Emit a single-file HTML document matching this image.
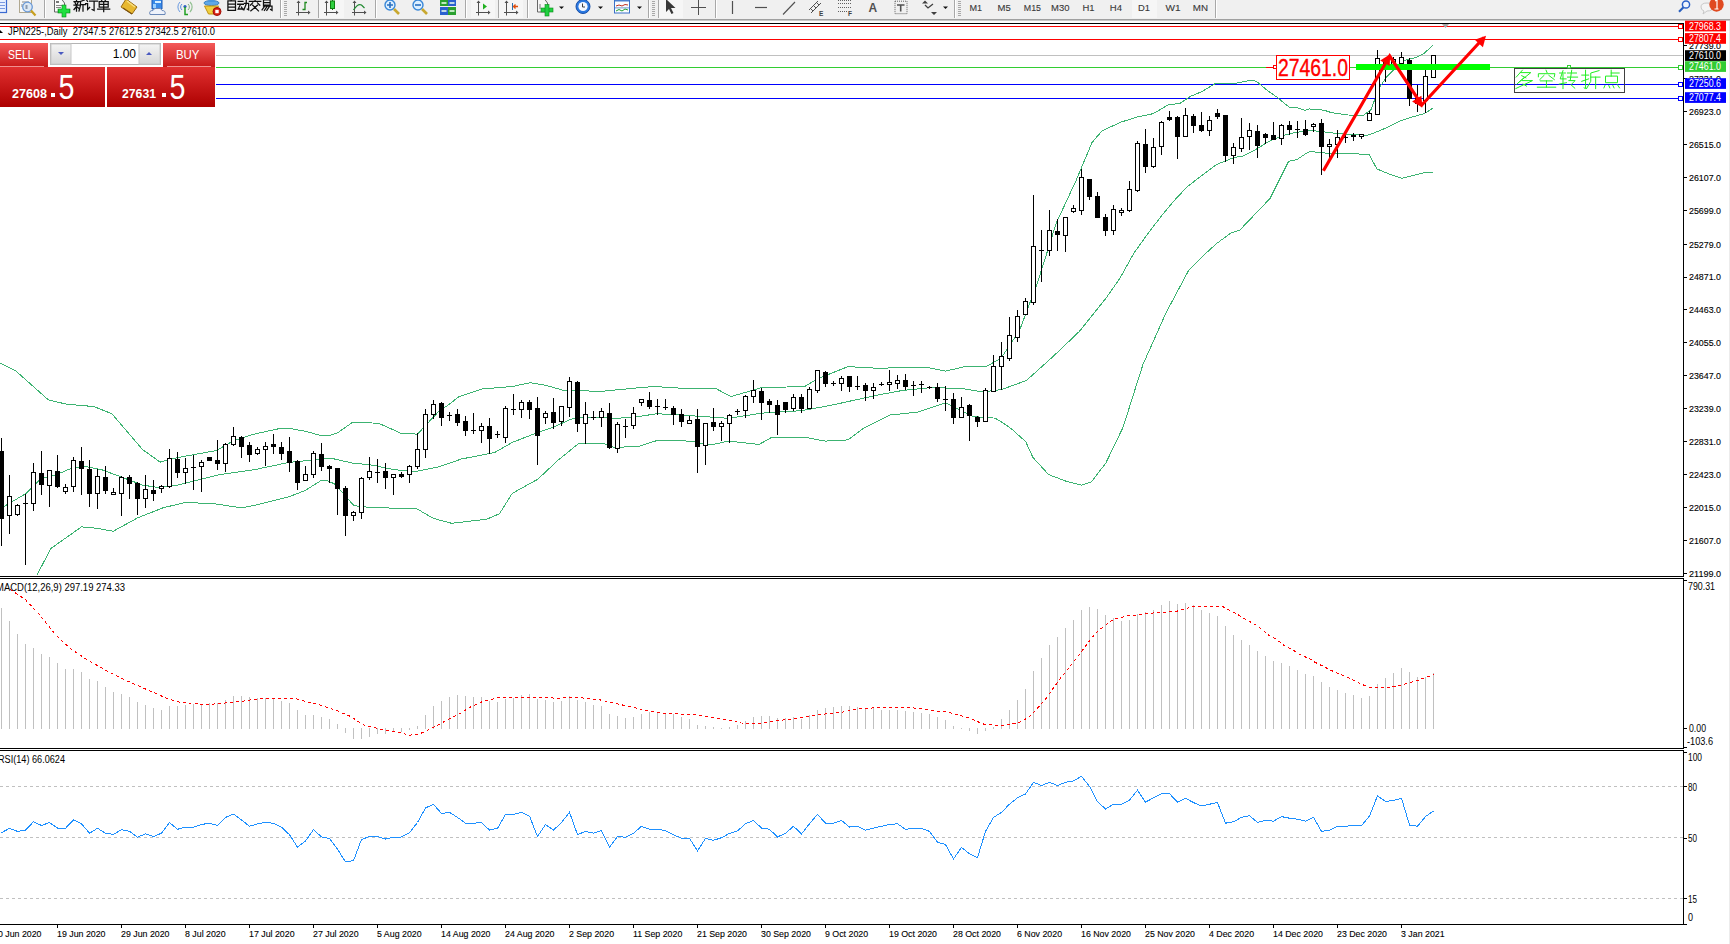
<!DOCTYPE html><html><head><meta charset="utf-8"><style>html,body{margin:0;padding:0;width:1730px;height:944px;overflow:hidden;background:#fff}</style></head><body><svg width="1730" height="944" viewBox="0 0 1730 944" style="position:absolute;left:0;top:0">
<defs><clipPath id="cmain"><rect x="0" y="24" width="1683" height="552"/></clipPath><clipPath id="cmacd"><rect x="0" y="579" width="1683" height="169"/></clipPath><clipPath id="crsi"><rect x="0" y="751" width="1683" height="173"/></clipPath><linearGradient id="gred" x1="0" y1="0" x2="0" y2="1"><stop offset="0" stop-color="#f45a5a"/><stop offset="1" stop-color="#c81a1a"/></linearGradient><linearGradient id="gred2" x1="0" y1="0" x2="0" y2="1"><stop offset="0" stop-color="#e03030"/><stop offset="1" stop-color="#ad0000"/></linearGradient><linearGradient id="gbtn" x1="0" y1="0" x2="0" y2="1"><stop offset="0" stop-color="#f4f4f4"/><stop offset="1" stop-color="#d6d6d6"/></linearGradient></defs>
<rect x="0" y="0" width="1730" height="944" fill="#ffffff"/>
<rect x="0" y="0" width="1730" height="19" fill="#f0f0f0"/>
<rect x="0" y="19" width="1730" height="1" fill="#a0a0a0"/>
<rect x="0" y="20" width="1730" height="1" fill="#c8c8c8"/>
<rect x="44" y="0" width="1" height="18" fill="#a8a8a8"/><rect x="45" y="0" width="1" height="18" fill="#ffffff"/><rect x="280" y="0" width="1" height="18" fill="#a8a8a8"/><rect x="281" y="0" width="1" height="18" fill="#ffffff"/><rect x="318" y="0" width="1" height="18" fill="#a8a8a8"/><rect x="319" y="0" width="1" height="18" fill="#ffffff"/><rect x="375" y="0" width="1" height="18" fill="#a8a8a8"/><rect x="376" y="0" width="1" height="18" fill="#ffffff"/><rect x="465" y="0" width="1" height="18" fill="#a8a8a8"/><rect x="466" y="0" width="1" height="18" fill="#ffffff"/><rect x="498" y="0" width="1" height="18" fill="#a8a8a8"/><rect x="499" y="0" width="1" height="18" fill="#ffffff"/><rect x="527" y="0" width="1" height="18" fill="#a8a8a8"/><rect x="528" y="0" width="1" height="18" fill="#ffffff"/><rect x="648" y="0" width="1" height="18" fill="#a8a8a8"/><rect x="649" y="0" width="1" height="18" fill="#ffffff"/><rect x="658" y="0" width="1" height="18" fill="#a8a8a8"/><rect x="659" y="0" width="1" height="18" fill="#ffffff"/><rect x="715" y="0" width="1" height="18" fill="#a8a8a8"/><rect x="716" y="0" width="1" height="18" fill="#ffffff"/><rect x="954" y="0" width="1" height="18" fill="#a8a8a8"/><rect x="955" y="0" width="1" height="18" fill="#ffffff"/><rect x="1215" y="0" width="1" height="18" fill="#a8a8a8"/><rect x="1216" y="0" width="1" height="18" fill="#ffffff"/><rect x="284" y="1" width="3" height="1" fill="#a8a8a8"/><rect x="284" y="3" width="3" height="1" fill="#a8a8a8"/><rect x="284" y="5" width="3" height="1" fill="#a8a8a8"/><rect x="284" y="7" width="3" height="1" fill="#a8a8a8"/><rect x="284" y="9" width="3" height="1" fill="#a8a8a8"/><rect x="284" y="11" width="3" height="1" fill="#a8a8a8"/><rect x="284" y="13" width="3" height="1" fill="#a8a8a8"/><rect x="284" y="15" width="3" height="1" fill="#a8a8a8"/><rect x="652" y="1" width="3" height="1" fill="#a8a8a8"/><rect x="652" y="3" width="3" height="1" fill="#a8a8a8"/><rect x="652" y="5" width="3" height="1" fill="#a8a8a8"/><rect x="652" y="7" width="3" height="1" fill="#a8a8a8"/><rect x="652" y="9" width="3" height="1" fill="#a8a8a8"/><rect x="652" y="11" width="3" height="1" fill="#a8a8a8"/><rect x="652" y="13" width="3" height="1" fill="#a8a8a8"/><rect x="652" y="15" width="3" height="1" fill="#a8a8a8"/><rect x="958" y="1" width="3" height="1" fill="#a8a8a8"/><rect x="958" y="3" width="3" height="1" fill="#a8a8a8"/><rect x="958" y="5" width="3" height="1" fill="#a8a8a8"/><rect x="958" y="7" width="3" height="1" fill="#a8a8a8"/><rect x="958" y="9" width="3" height="1" fill="#a8a8a8"/><rect x="958" y="11" width="3" height="1" fill="#a8a8a8"/><rect x="958" y="13" width="3" height="1" fill="#a8a8a8"/><rect x="958" y="15" width="3" height="1" fill="#a8a8a8"/><rect x="319" y="0" width="25" height="18" fill="#f6f6f6"/><rect x="471" y="0" width="24" height="18" fill="#f6f6f6"/><rect x="499" y="0" width="24" height="18" fill="#f6f6f6"/><rect x="659" y="0" width="24" height="18" fill="#f6f6f6"/><rect x="1132" y="0" width="25" height="18" fill="#f6f6f6"/><rect x="-3.5" y="-1.5" width="10" height="14" fill="#e8f0ff" stroke="#3a6ad0" stroke-width="1.2"/><rect x="-1" y="2" width="6" height="1" fill="#7a9ae0"/><rect x="-1" y="5" width="6" height="1" fill="#7a9ae0"/><rect x="-1" y="8" width="6" height="1" fill="#7a9ae0"/><rect x="19.5" y="-1.5" width="12" height="14" fill="#f8f8f8" stroke="#b0a890"/><path d="M22 2 h7 M22 4 v3" stroke="#888" /><circle cx="27.5" cy="7" r="4.8" fill="#dde8f4" stroke="#6a9ad8" stroke-width="1.3"/><path d="M26.5 5 v4" stroke="#8a9ab0" stroke-width="2"/><path d="M31 10.5 l4.5 5" stroke="#c8a020" stroke-width="2.2"/><path d="M54.5 -1 v13 h10 v-9 l-3 -4" fill="#fafafa" stroke="#666"/><rect x="56" y="1" width="3" height="2" fill="#777"/><rect x="56" y="5" width="6" height="1" fill="#888"/><rect x="56" y="7" width="5" height="1" fill="#888"/><rect x="58" y="9" width="12" height="4" fill="#10c030" stroke="#0a8a1a" stroke-width="0.6"/><rect x="62" y="5" width="4" height="12" fill="#10c030" stroke="#0a8a1a" stroke-width="0.6"/><rect x="59" y="9.5" width="10" height="3" fill="#20e040"/><rect x="62.5" y="5.5" width="3" height="11" fill="#20e040"/><path transform="translate(73.50,-0.50) scale(1.0)" d="M3 -0.5 V1.2 M0.5 2 H6 M1.5 3 L2.5 5 M4.5 3 L3.5 5 M0.5 5.5 H6 M3 5.5 V11.5 M3 7 L0.5 10 M3 7 L5.5 9 M11 0.5 L7 2 V6 L5.5 11.5 M7 5 H12 M9.5 5 V11.5" fill="none" stroke="#101010" stroke-width="1.250" stroke-linecap="square"/><path transform="translate(85.60,-0.50) scale(1.0)" d="M1 0.5 L2 2 M0 4 H2 V10 L4 8 M4 1.5 H12 M8.5 1.5 V11 L6.5 10" fill="none" stroke="#101010" stroke-width="1.250" stroke-linecap="square"/><path transform="translate(97.70,-0.50) scale(1.0)" d="M3 -0.5 L4 1 M8.5 -0.5 L7.5 1 M1.5 2 H10.5 V7.5 H1.5 Z M1.5 4.75 H10.5 M6 2 V12 M0 9.5 H12" fill="none" stroke="#101010" stroke-width="1.250" stroke-linecap="square"/><path d="M126 -1 l11 8 l-5 7 l-11 -7z" fill="#e8b830" stroke="#9a6a10" stroke-width="1"/><path d="M123 8 l9 6" stroke="#7a5010" stroke-width="1.2"/><path d="M127 1 l8 6" stroke="#f8e080" stroke-width="1.5"/><path d="M152 -1 h10 v10 h-10z" fill="#3a8ae8" stroke="#1a5ab8"/><rect x="155" y="1" width="6" height="2" fill="#d8f0ff"/><rect x="153" y="4" width="3" height="4" fill="#9ad0ff"/><path d="M150 14.5 q-1.5 -4 3 -4 q1 -3 5 -2 q3 -1 4 2 q4 0 3 4z" fill="#eef2fa" stroke="#6a88b8"/><path d="M180 2 a7 7 0 0 0 0 10" fill="none" stroke="#6a9ae0" stroke-width="1"/><path d="M182 4 a4 4 0 0 0 0 6" fill="none" stroke="#5a8ad8" stroke-width="1"/><path d="M190 2 a7 7 0 0 1 0 10" fill="none" stroke="#90c090" stroke-width="1.2"/><path d="M188 4 a4 4 0 0 1 0 6" fill="none" stroke="#80b080" stroke-width="1"/><circle cx="185" cy="6.5" r="1.6" fill="#2a60c0"/><path d="M185 7 v7.5 h3" stroke="#20a020" stroke-width="1.5" fill="none"/><ellipse cx="211.5" cy="3" rx="7.5" ry="2.5" fill="#60a8e8" stroke="#3a80c0"/><path d="M209 -1 h5 l1 3 h-7z" fill="#4a98e0"/><path d="M204.5 6 h14 l-4 8 h-6z" fill="#f0d040" stroke="#c09010"/><circle cx="217" cy="11.5" r="4" fill="#d82010" stroke="#a01008"/><rect x="215.3" y="9.8" width="3.4" height="3.4" fill="#fff"/><path transform="translate(226.00,-0.50) scale(0.95)" d="M6 -0.5 L5 1.5 M2 1.5 H10 V11.5 H2 Z M2 4.8 H10 M2 8 H10" fill="none" stroke="#101010" stroke-width="1.316" stroke-linecap="square"/><path transform="translate(237.70,-0.50) scale(0.95)" d="M0.5 2 H5.5 M0 5 H6 M3 5 L0.5 10 H5.5 M4 8 L5.5 10.5 M7 4 H11.5 V11 L10 10 M9 0.5 V4.5 L6.5 11" fill="none" stroke="#101010" stroke-width="1.316" stroke-linecap="square"/><path transform="translate(249.40,-0.50) scale(0.95)" d="M6 -0.5 V1.5 M0 2 H12 M3.5 3.5 L1 6 M8.5 3.5 L11 6 M3.5 6 L9.5 12 M8.5 6 L1.5 12" fill="none" stroke="#101010" stroke-width="1.316" stroke-linecap="square"/><path transform="translate(261.10,-0.50) scale(0.95)" d="M2.5 0.5 H9.5 V6 H2.5 Z M2.5 3.2 H9.5 M2.5 7 H11.5 V11.5 L10 10.5 M4.5 6 L1 11 M6.5 7 L3.5 11.5 M9 7 L6 11.5" fill="none" stroke="#101010" stroke-width="1.316" stroke-linecap="square"/><path d="M298.5 1 v14.5 M296 12.5 h14" stroke="#505050" stroke-width="1" fill="none"/><path d="M296.5 3 l2 -2.5 l2 2.5z M308 10.5 l2.5 2 l-2.5 2z" fill="#505050"/><path d="M302.5 9.5 h2.5 v-7 h2" stroke="#208a20" stroke-width="1.3" fill="none"/><path d="M326.5 1 v14.5 M324 12.5 h14" stroke="#505050" stroke-width="1" fill="none"/><path d="M324.5 3 l2 -2.5 l2 2.5z M336 10.5 l2.5 2 l-2.5 2z" fill="#505050"/><path d="M332.5 -1 v11" stroke="#107010"/><rect x="330.5" y="1" width="4" height="7.5" fill="#30d040" stroke="#108010"/><path d="M354.5 1 v14.5 M352 12.5 h14" stroke="#505050" stroke-width="1" fill="none"/><path d="M352.5 3 l2 -2.5 l2 2.5z M364 10.5 l2.5 2 l-2.5 2z" fill="#505050"/><path d="M353.5 10 q4.5 -7 8 -5 l3 3" stroke="#208a30" stroke-width="1.2" fill="none"/><circle cx="390" cy="5" r="5" fill="#dcefff" stroke="#3a88d8" stroke-width="1.4"/><path d="M387 5 h6 M390 2 v6" stroke="#2a70c0" stroke-width="1.6"/><path d="M394 9 l5 5" stroke="#c8a830" stroke-width="2.6"/><circle cx="418" cy="5" r="5" fill="#dcefff" stroke="#3a88d8" stroke-width="1.4"/><path d="M415 5 h6" stroke="#2a70c0" stroke-width="1.6"/><path d="M422 9 l5 5" stroke="#c8a830" stroke-width="2.6"/><rect x="440" y="-1" width="8" height="7" fill="#2aa030"/><rect x="448" y="-1" width="8" height="7" fill="#2a60d0"/><rect x="440" y="7" width="8" height="8" fill="#2a60d0"/><rect x="448" y="7" width="8" height="8" fill="#2aa030"/><path d="M441.5 3 h5 M449.5 3 h5 M441.5 11 h5 M449.5 11 h5" stroke="#f0fff0" stroke-width="1.5"/><path d="M478.5 1 v14.5 M476 12.5 h14" stroke="#505050" stroke-width="1" fill="none"/><path d="M476.5 3 l2 -2.5 l2 2.5z M488 10.5 l2.5 2 l-2.5 2z" fill="#505050"/><path d="M483 3.5 l4 3 l-4 3z" fill="#20b020"/><path d="M506.5 1 v14.5 M504 12.5 h14" stroke="#505050" stroke-width="1" fill="none"/><path d="M504.5 3 l2 -2.5 l2 2.5z M516 10.5 l2.5 2 l-2.5 2z" fill="#505050"/><path d="M512.5 3 v7" stroke="#2a70b0"/><path d="M518 6.5 h-4 M515.5 4.5 l-2 2 l2 2" stroke="#e05010" stroke-width="1.3" fill="none"/><path d="M537.5 -1 v13 h10 v-9 l-3 -4" fill="#f6f6f6" stroke="#666"/><path d="M540 4 v5" stroke="#777"/><rect x="541" y="8" width="12" height="4" fill="#20d040" stroke="#0a8a1a" stroke-width="0.6"/><rect x="545" y="4.5" width="4" height="11.5" fill="#20d040" stroke="#0a8a1a" stroke-width="0.6"/><path d="M559 6.5 h5 l-2.5 2.5z" fill="#101010"/><circle cx="583" cy="6.5" r="7" fill="#2a78e0" stroke="#1a50a8"/><circle cx="583" cy="6.5" r="4.6" fill="#f4f8ff"/><path d="M582.5 3.5 v3.5 h2.5" stroke="#404040" fill="none"/><path d="M598 6.5 h5 l-2.5 2.5z" fill="#101010"/><rect x="614.5" y="-1" width="15" height="14" fill="#fafcff" stroke="#3a70c8"/><rect x="615" y="-1" width="14" height="2.5" fill="#4a80d0"/><path d="M616 6 l3 -1 l3 1 l3 -1.5 l3 0.5" stroke="#c03020" fill="none"/><rect x="615" y="7.5" width="14" height="0.8" fill="#5080c0"/><path d="M616 11 l3 -1.5 l3 1.5 l3 -2 l3 1" stroke="#20a030" fill="none"/><path d="M637 6.5 h5 l-2.5 2.5z" fill="#101010"/><path d="M666 -1 v13 l3 -3 l2.5 5 l2 -1 l-2.5 -5 h4.5z" fill="#383838"/><path d="M698.5 0 v15 M691 7.5 h15" stroke="#505050"/><path d="M732.5 1 v13" stroke="#505050" stroke-width="1.2"/><path d="M755 7.5 h12" stroke="#505050" stroke-width="1.2"/><path d="M783 14.5 l12 -12.5" stroke="#505050" stroke-width="1.1"/><path d="M809 10 l9 -9 M811 13 l10 -10 M813 5 l3 3 M810 8 l3 3 M816 2 l3 3" stroke="#505050" stroke-width="1"/><text x="819" y="15.5" font-family='"Liberation Sans"' font-size="6.5" font-weight="bold" fill="#404040">E</text><path d="M838 0.5 h13 M838 3.5 h13 M838 7.5 h13 M838 11.5 h9" stroke="#606060" stroke-dasharray="1,1"/><text x="848" y="15.5" font-family='"Liberation Sans"' font-size="6.5" font-weight="bold" fill="#404040">F</text><text x="868.5" y="11.6" font-family='"Liberation Sans"' font-size="12" font-weight="bold" fill="#505050">A</text><rect x="895" y="1.2" width="12" height="12.5" fill="none" stroke="#606060" stroke-dasharray="1,1"/><path d="M897 5 h7.5 M900.7 5 v6.6" stroke="#505050" stroke-width="1.6"/><path d="M922 3.5 l3 -3 l3 3z M931 12 l3 3 l3 -3z" fill="#404040"/><path d="M925 5 l3 3 l5 -4" stroke="#404040" stroke-width="1.3" fill="none"/><path d="M943 6.5 h5 l-2.5 2.5z" fill="#101010"/><text x="969.4" y="11" font-family='"Liberation Sans", sans-serif' font-size="9.5" fill="#383838" stroke="#383838" stroke-width="0.1" textLength="12.6" lengthAdjust="spacingAndGlyphs">M1</text><text x="997.5" y="11" font-family='"Liberation Sans", sans-serif' font-size="9.5" fill="#383838" stroke="#383838" stroke-width="0.1" textLength="13.2" lengthAdjust="spacingAndGlyphs">M5</text><text x="1023.8" y="11" font-family='"Liberation Sans", sans-serif' font-size="9.5" fill="#383838" stroke="#383838" stroke-width="0.1" textLength="17.2" lengthAdjust="spacingAndGlyphs">M15</text><text x="1051" y="11" font-family='"Liberation Sans", sans-serif' font-size="9.5" fill="#383838" stroke="#383838" stroke-width="0.1" textLength="18.4" lengthAdjust="spacingAndGlyphs">M30</text><text x="1082.5" y="11" font-family='"Liberation Sans", sans-serif' font-size="9.5" fill="#383838" stroke="#383838" stroke-width="0.1" textLength="12.1" lengthAdjust="spacingAndGlyphs">H1</text><text x="1109.8" y="11" font-family='"Liberation Sans", sans-serif' font-size="9.5" fill="#383838" stroke="#383838" stroke-width="0.1" textLength="12.2" lengthAdjust="spacingAndGlyphs">H4</text><text x="1138" y="11" font-family='"Liberation Sans", sans-serif' font-size="9.5" fill="#383838" stroke="#383838" stroke-width="0.1" textLength="12" lengthAdjust="spacingAndGlyphs">D1</text><text x="1165.5" y="11" font-family='"Liberation Sans", sans-serif' font-size="9.5" fill="#383838" stroke="#383838" stroke-width="0.1" textLength="15.1" lengthAdjust="spacingAndGlyphs">W1</text><text x="1192.8" y="11" font-family='"Liberation Sans", sans-serif' font-size="9.5" fill="#383838" stroke="#383838" stroke-width="0.1" textLength="15.2" lengthAdjust="spacingAndGlyphs">MN</text><circle cx="1686" cy="4.5" r="3.6" fill="#f0f6ff" stroke="#2a60c8" stroke-width="1.5"/><path d="M1683.5 7.2 l-4.5 4.5" stroke="#2a60c0" stroke-width="2.2"/><path d="M1703 14 l1 -3 q-3 -1 -3 -4 q0 -4 6 -4 q6 0 6 4 q0 4 -6 4z" fill="#f4f4f4" stroke="#c8c8c8"/><circle cx="1716.5" cy="4.5" r="7.2" fill="#e04a20"/><path d="M1715 1 l2 -1 v9 M1714.5 9 h4" stroke="#fff" stroke-width="1.2" fill="none"/>
<rect x="0" y="23" width="1684" height="1" fill="#000"/>
<rect x="1729" y="21" width="1" height="923" fill="#ececec"/>
<g clip-path="url(#cmain)">
<rect x="0" y="55" width="1683" height="1" fill="#c0c0c0"/>
<rect x="0" y="26" width="1683" height="1" fill="#ff0000"/>
<rect x="1678.5" y="24.5" width="4" height="4" fill="#fff" stroke="#ff0000" stroke-width="1"/>
<rect x="0" y="39" width="1683" height="1" fill="#ff0000"/>
<rect x="1678.5" y="37.5" width="4" height="4" fill="#fff" stroke="#ff0000" stroke-width="1"/>
<rect x="0" y="67" width="1683" height="1" fill="#32cd32"/>
<rect x="1678.5" y="65.5" width="4" height="4" fill="#fff" stroke="#32cd32" stroke-width="1"/>
<rect x="0" y="84" width="1683" height="1" fill="#0000ff"/>
<rect x="1678.5" y="82.5" width="4" height="4" fill="#fff" stroke="#0000ff" stroke-width="1"/>
<rect x="0" y="98" width="1683" height="1" fill="#0000ff"/>
<rect x="1678.5" y="96.5" width="4" height="4" fill="#fff" stroke="#0000ff" stroke-width="1"/>
<polyline points="0.0,362.9 15.3,370.5 48.3,399.8 66.1,404.1 94.1,406.6 111.9,413.8 127.2,431.6 142.4,449.4 160.2,462.1 178.0,457.5 216.2,450.6 234.0,440.5 254.3,434.1 279.8,428.5 290.0,428.2 295.0,429.5 304.8,431.1 321.1,435.6 330.0,435.3 337.4,432.9 352.3,422.5 364.1,422.5 379.0,423.4 401.2,433.4 417.5,434.1 426.4,424.5 438.3,411.9 450.0,403.7 458.9,396.6 481.8,389.0 512.3,386.5 530.1,382.7 545.4,385.2 563.2,390.3 578.4,390.3 598.8,391.6 639.5,387.7 654.7,386.5 685.2,388.5 715.8,388.5 731.0,396.6 746.3,392.1 761.5,387.7 804.8,386.5 817.5,378.8 848.0,366.6 876.0,368.2 927.3,367.4 945.7,371.1 964.2,366.8 985.7,366.8 1001.0,358.2 1019.5,330.5 1037.9,281.4 1056.3,223.0 1076.3,180.0 1092.0,142.5 1102.2,130.7 1120.8,122.2 1137.8,116.8 1153.0,113.7 1168.3,104.9 1180.0,103.4 1190.4,96.4 1201.7,91.7 1214.7,83.9 1221.6,83.4 1235.5,83.4 1249.4,80.4 1256.3,81.2 1266.7,89.9 1277.1,97.3 1289.3,107.3 1296.2,107.5 1304.9,110.3 1310.0,108.7 1310.1,109.4 1317.9,109.6 1322.0,110.0 1329.1,111.6 1330.0,112.5 1348.2,115.0 1363.4,115.4 1371.0,109.7 1378.7,88.7 1386.3,77.2 1393.9,69.6 1405.4,60.1 1416.8,57.2 1424.5,53.2 1433.0,44.8" fill="none" stroke="#3cb371" stroke-width="1" shape-rendering="crispEdges"/>
<polyline points="0.0,509.1 10.2,502.8 25.4,493.9 40.7,478.6 56.0,474.8 71.2,468.4 86.5,466.7 101.7,469.7 122.1,477.3 142.4,485.0 157.7,487.5 178.0,485.0 193.3,481.1 218.7,474.8 254.3,469.7 284.8,463.3 290.0,462.3 304.8,460.8 325.6,458.3 334.5,459.0 352.3,463.0 373.0,465.2 393.8,469.7 408.6,470.9 417.5,471.2 438.3,467.0 450.0,463.0 461.4,459.0 494.5,452.6 512.3,442.4 535.2,433.5 553.0,427.2 573.3,418.3 593.7,417.0 614.0,418.3 631.8,417.5 657.3,413.7 690.3,415.7 728.5,418.3 761.5,413.2 802.2,410.6 830.2,405.5 876.0,395.4 902.7,390.4 933.4,387.4 964.2,388.9 982.6,392.0 1000.0,389.7 1001.0,389.8 1026.5,380.4 1053.0,356.6 1079.4,331.4 1105.9,298.3 1120.0,278.1 1133.8,253.3 1147.6,234.0 1161.3,216.1 1175.1,199.6 1187.5,186.5 1202.7,174.8 1216.4,164.5 1230.2,159.0 1240.0,156.2 1241.2,156.9 1254.7,150.2 1268.3,141.7 1281.8,135.8 1295.4,132.4 1310.0,130.6 1312.3,130.7 1322.0,131.5 1329.1,132.6 1348.2,134.5 1367.2,135.4 1374.9,132.6 1386.3,127.8 1399.7,121.1 1411.1,117.3 1424.5,113.5 1433.0,108.1" fill="none" stroke="#3cb371" stroke-width="1" shape-rendering="crispEdges"/>
<polyline points="36.9,575.2 50.9,548.5 81.4,526.9 96.6,528.2 113.2,531.3 137.3,518.0 162.8,507.9 185.7,502.3 216.2,504.0 241.6,507.9 256.9,504.8 279.8,499.0 290.0,496.4 304.8,490.7 321.1,480.5 327.1,480.8 334.5,483.8 341.9,491.9 353.8,505.6 373.0,507.9 416.0,508.2 430.9,517.1 438.3,519.8 450.0,522.8 451.3,523.3 486.9,519.2 499.6,513.6 512.3,493.3 537.7,479.3 558.1,460.2 578.4,443.7 603.9,443.7 614.0,447.5 639.5,446.2 657.3,440.4 690.3,441.1 710.7,445.0 728.5,441.1 759.0,444.5 771.7,437.3 804.8,437.3 825.1,441.1 848.0,439.9 863.3,428.4 876.0,422.1 890.4,415.0 918.1,412.0 945.7,402.7 973.4,416.6 994.9,418.1 1000.0,421.1 1007.2,425.8 1011.4,428.8 1025.7,441.7 1032.9,457.4 1048.6,474.6 1065.8,481.1 1081.5,485.1 1091.5,481.7 1105.8,463.1 1123.0,427.4 1143.0,364.4 1165.9,313.0 1188.9,269.9 1202.7,256.1 1216.4,243.7 1230.2,233.4 1240.0,229.9 1270.0,198.5 1288.6,161.2 1297.1,159.5 1307.3,152.7 1310.0,151.6 1314.0,151.9 1322.0,152.7 1329.1,153.5 1348.2,153.5 1369.1,154.5 1376.8,168.8 1390.1,174.5 1401.6,178.3 1413.0,175.5 1424.5,172.6 1433.0,172.6" fill="none" stroke="#3cb371" stroke-width="1" shape-rendering="crispEdges"/>
<g fill="#000" shape-rendering="crispEdges"><rect x="1" y="438" width="1" height="108"/><rect x="-1" y="451" width="5" height="68"/><rect x="9" y="475" width="1" height="59"/><rect x="7" y="496" width="5" height="20"/><rect x="8" y="497" width="3" height="18" fill="#fff"/><rect x="17" y="504" width="1" height="12"/><rect x="15" y="505" width="5" height="10"/><rect x="16" y="506" width="3" height="8" fill="#fff"/><rect x="25" y="494" width="1" height="71"/><rect x="23" y="503" width="5" height="1"/><rect x="33" y="463" width="1" height="48"/><rect x="31" y="472" width="5" height="32"/><rect x="32" y="473" width="3" height="30" fill="#fff"/><rect x="41" y="451" width="1" height="44"/><rect x="39" y="473" width="5" height="12"/><rect x="49" y="470" width="1" height="37"/><rect x="47" y="470" width="5" height="16"/><rect x="48" y="471" width="3" height="14" fill="#fff"/><rect x="57" y="455" width="1" height="33"/><rect x="55" y="471" width="5" height="16"/><rect x="65" y="484" width="1" height="10"/><rect x="63" y="487" width="5" height="5"/><rect x="64" y="488" width="3" height="3" fill="#fff"/><rect x="73" y="457" width="1" height="35"/><rect x="71" y="460" width="5" height="27"/><rect x="72" y="461" width="3" height="25" fill="#fff"/><rect x="81" y="447" width="1" height="48"/><rect x="79" y="461" width="5" height="8"/><rect x="89" y="460" width="1" height="47"/><rect x="87" y="469" width="5" height="25"/><rect x="97" y="469" width="1" height="40"/><rect x="95" y="476" width="5" height="18"/><rect x="96" y="477" width="3" height="16" fill="#fff"/><rect x="105" y="466" width="1" height="28"/><rect x="103" y="477" width="5" height="14"/><rect x="113" y="488" width="1" height="7"/><rect x="111" y="492" width="5" height="3"/><rect x="112" y="493" width="3" height="1" fill="#fff"/><rect x="121" y="476" width="1" height="40"/><rect x="119" y="477" width="5" height="17"/><rect x="120" y="478" width="3" height="15" fill="#fff"/><rect x="129" y="475" width="1" height="24"/><rect x="127" y="477" width="5" height="7"/><rect x="137" y="482" width="1" height="33"/><rect x="135" y="483" width="5" height="16"/><rect x="145" y="475" width="1" height="33"/><rect x="143" y="489" width="5" height="10"/><rect x="144" y="490" width="3" height="8" fill="#fff"/><rect x="153" y="480" width="1" height="21"/><rect x="151" y="490" width="5" height="4"/><rect x="161" y="485" width="1" height="8"/><rect x="159" y="486" width="5" height="3"/><rect x="160" y="487" width="3" height="1" fill="#fff"/><rect x="169" y="449" width="1" height="39"/><rect x="167" y="458" width="5" height="29"/><rect x="168" y="459" width="3" height="27" fill="#fff"/><rect x="177" y="452" width="1" height="26"/><rect x="175" y="459" width="5" height="14"/><rect x="185" y="458" width="1" height="26"/><rect x="183" y="468" width="5" height="5"/><rect x="184" y="469" width="3" height="3" fill="#fff"/><rect x="193" y="455" width="1" height="35"/><rect x="191" y="467" width="5" height="1"/><rect x="201" y="460" width="1" height="32"/><rect x="199" y="462" width="5" height="5"/><rect x="200" y="463" width="3" height="3" fill="#fff"/><rect x="209" y="457" width="1" height="4"/><rect x="207" y="457" width="5" height="4"/><rect x="217" y="440" width="1" height="30"/><rect x="215" y="460" width="5" height="4"/><rect x="225" y="443" width="1" height="29"/><rect x="223" y="444" width="5" height="20"/><rect x="224" y="445" width="3" height="18" fill="#fff"/><rect x="233" y="427" width="1" height="19"/><rect x="231" y="436" width="5" height="9"/><rect x="232" y="437" width="3" height="7" fill="#fff"/><rect x="241" y="436" width="1" height="22"/><rect x="239" y="437" width="5" height="10"/><rect x="249" y="442" width="1" height="20"/><rect x="247" y="445" width="5" height="10"/><rect x="257" y="447" width="1" height="8"/><rect x="255" y="449" width="5" height="5"/><rect x="256" y="450" width="3" height="3" fill="#fff"/><rect x="265" y="442" width="1" height="24"/><rect x="263" y="446" width="5" height="4"/><rect x="264" y="447" width="3" height="2" fill="#fff"/><rect x="273" y="434" width="1" height="20"/><rect x="271" y="444" width="5" height="3"/><rect x="281" y="442" width="1" height="18"/><rect x="279" y="447" width="5" height="7"/><rect x="289" y="437" width="1" height="35"/><rect x="287" y="451" width="5" height="12"/><rect x="297" y="460" width="1" height="30"/><rect x="295" y="461" width="5" height="22"/><rect x="305" y="466" width="1" height="15"/><rect x="303" y="474" width="5" height="7"/><rect x="304" y="475" width="3" height="5" fill="#fff"/><rect x="313" y="451" width="1" height="27"/><rect x="311" y="453" width="5" height="22"/><rect x="312" y="454" width="3" height="20" fill="#fff"/><rect x="321" y="443" width="1" height="28"/><rect x="319" y="454" width="5" height="13"/><rect x="329" y="465" width="1" height="18"/><rect x="327" y="466" width="5" height="3"/><rect x="337" y="468" width="1" height="47"/><rect x="335" y="468" width="5" height="21"/><rect x="345" y="486" width="1" height="50"/><rect x="343" y="488" width="5" height="28"/><rect x="353" y="511" width="1" height="10"/><rect x="351" y="512" width="5" height="4"/><rect x="352" y="513" width="3" height="2" fill="#fff"/><rect x="361" y="477" width="1" height="42"/><rect x="359" y="478" width="5" height="35"/><rect x="360" y="479" width="3" height="33" fill="#fff"/><rect x="369" y="457" width="1" height="23"/><rect x="367" y="471" width="5" height="7"/><rect x="368" y="472" width="3" height="5" fill="#fff"/><rect x="377" y="459" width="1" height="24"/><rect x="375" y="472" width="5" height="1"/><rect x="385" y="463" width="1" height="26"/><rect x="383" y="471" width="5" height="7"/><rect x="393" y="474" width="1" height="21"/><rect x="391" y="474" width="5" height="4"/><rect x="392" y="475" width="3" height="2" fill="#fff"/><rect x="401" y="472" width="1" height="6"/><rect x="399" y="474" width="5" height="3"/><rect x="409" y="465" width="1" height="18"/><rect x="407" y="466" width="5" height="9"/><rect x="408" y="467" width="3" height="7" fill="#fff"/><rect x="417" y="433" width="1" height="36"/><rect x="415" y="449" width="5" height="18"/><rect x="416" y="450" width="3" height="16" fill="#fff"/><rect x="425" y="409" width="1" height="49"/><rect x="423" y="414" width="5" height="36"/><rect x="424" y="415" width="3" height="34" fill="#fff"/><rect x="433" y="400" width="1" height="19"/><rect x="431" y="404" width="5" height="11"/><rect x="432" y="405" width="3" height="9" fill="#fff"/><rect x="441" y="402" width="1" height="24"/><rect x="439" y="403" width="5" height="15"/><rect x="449" y="412" width="1" height="9"/><rect x="447" y="415" width="5" height="1"/><rect x="457" y="409" width="1" height="17"/><rect x="455" y="414" width="5" height="9"/><rect x="465" y="416" width="1" height="20"/><rect x="463" y="421" width="5" height="10"/><rect x="473" y="413" width="1" height="21"/><rect x="471" y="430" width="5" height="1"/><rect x="481" y="423" width="1" height="20"/><rect x="479" y="426" width="5" height="5"/><rect x="480" y="427" width="3" height="3" fill="#fff"/><rect x="489" y="418" width="1" height="36"/><rect x="487" y="426" width="5" height="13"/><rect x="497" y="431" width="1" height="7"/><rect x="495" y="434" width="5" height="1"/><rect x="505" y="406" width="1" height="37"/><rect x="503" y="408" width="5" height="30"/><rect x="504" y="409" width="3" height="28" fill="#fff"/><rect x="513" y="394" width="1" height="21"/><rect x="511" y="409" width="5" height="1"/><rect x="521" y="400" width="1" height="18"/><rect x="519" y="402" width="5" height="8"/><rect x="520" y="403" width="3" height="6" fill="#fff"/><rect x="529" y="400" width="1" height="19"/><rect x="527" y="402" width="5" height="8"/><rect x="537" y="397" width="1" height="68"/><rect x="535" y="408" width="5" height="28"/><rect x="545" y="411" width="1" height="13"/><rect x="543" y="413" width="5" height="5"/><rect x="544" y="414" width="3" height="3" fill="#fff"/><rect x="553" y="398" width="1" height="31"/><rect x="551" y="412" width="5" height="11"/><rect x="561" y="406" width="1" height="20"/><rect x="559" y="406" width="5" height="16"/><rect x="560" y="407" width="3" height="14" fill="#fff"/><rect x="569" y="377" width="1" height="40"/><rect x="567" y="381" width="5" height="27"/><rect x="568" y="382" width="3" height="25" fill="#fff"/><rect x="577" y="381" width="1" height="51"/><rect x="575" y="382" width="5" height="42"/><rect x="585" y="402" width="1" height="42"/><rect x="583" y="414" width="5" height="10"/><rect x="584" y="415" width="3" height="8" fill="#fff"/><rect x="593" y="411" width="1" height="9"/><rect x="591" y="417" width="5" height="1"/><rect x="601" y="408" width="1" height="19"/><rect x="599" y="411" width="5" height="7"/><rect x="600" y="412" width="3" height="5" fill="#fff"/><rect x="609" y="403" width="1" height="46"/><rect x="607" y="413" width="5" height="35"/><rect x="617" y="422" width="1" height="31"/><rect x="615" y="424" width="5" height="25"/><rect x="616" y="425" width="3" height="23" fill="#fff"/><rect x="625" y="419" width="1" height="19"/><rect x="623" y="426" width="5" height="1"/><rect x="633" y="407" width="1" height="22"/><rect x="631" y="413" width="5" height="13"/><rect x="632" y="414" width="3" height="11" fill="#fff"/><rect x="641" y="399" width="1" height="7"/><rect x="639" y="399" width="5" height="4"/><rect x="640" y="400" width="3" height="2" fill="#fff"/><rect x="649" y="392" width="1" height="17"/><rect x="647" y="400" width="5" height="7"/><rect x="657" y="399" width="1" height="16"/><rect x="655" y="406" width="5" height="1"/><rect x="665" y="399" width="1" height="11"/><rect x="663" y="407" width="5" height="1"/><rect x="673" y="406" width="1" height="19"/><rect x="671" y="408" width="5" height="7"/><rect x="681" y="409" width="1" height="18"/><rect x="679" y="414" width="5" height="8"/><rect x="689" y="416" width="1" height="8"/><rect x="687" y="420" width="5" height="4"/><rect x="688" y="421" width="3" height="2" fill="#fff"/><rect x="697" y="409" width="1" height="64"/><rect x="695" y="419" width="5" height="28"/><rect x="705" y="423" width="1" height="42"/><rect x="703" y="423" width="5" height="23"/><rect x="704" y="424" width="3" height="21" fill="#fff"/><rect x="713" y="408" width="1" height="23"/><rect x="711" y="422" width="5" height="5"/><rect x="721" y="421" width="1" height="20"/><rect x="719" y="423" width="5" height="4"/><rect x="720" y="424" width="3" height="2" fill="#fff"/><rect x="729" y="414" width="1" height="29"/><rect x="727" y="415" width="5" height="9"/><rect x="728" y="416" width="3" height="7" fill="#fff"/><rect x="737" y="409" width="1" height="6"/><rect x="735" y="411" width="5" height="1"/><rect x="745" y="395" width="1" height="23"/><rect x="743" y="396" width="5" height="15"/><rect x="744" y="397" width="3" height="13" fill="#fff"/><rect x="753" y="380" width="1" height="23"/><rect x="751" y="390" width="5" height="7"/><rect x="752" y="391" width="3" height="5" fill="#fff"/><rect x="761" y="388" width="1" height="32"/><rect x="759" y="391" width="5" height="12"/><rect x="769" y="399" width="1" height="14"/><rect x="767" y="401" width="5" height="4"/><rect x="777" y="400" width="1" height="35"/><rect x="775" y="405" width="5" height="10"/><rect x="785" y="402" width="1" height="11"/><rect x="783" y="402" width="5" height="8"/><rect x="793" y="394" width="1" height="17"/><rect x="791" y="397" width="5" height="12"/><rect x="792" y="398" width="3" height="10" fill="#fff"/><rect x="801" y="394" width="1" height="19"/><rect x="799" y="397" width="5" height="12"/><rect x="809" y="387" width="1" height="22"/><rect x="807" y="389" width="5" height="20"/><rect x="808" y="390" width="3" height="18" fill="#fff"/><rect x="817" y="370" width="1" height="23"/><rect x="815" y="370" width="5" height="21"/><rect x="816" y="371" width="3" height="19" fill="#fff"/><rect x="825" y="371" width="1" height="16"/><rect x="823" y="372" width="5" height="12"/><rect x="833" y="381" width="1" height="5"/><rect x="831" y="383" width="5" height="1"/><rect x="841" y="376" width="1" height="15"/><rect x="839" y="378" width="5" height="6"/><rect x="840" y="379" width="3" height="4" fill="#fff"/><rect x="849" y="376" width="1" height="16"/><rect x="847" y="376" width="5" height="11"/><rect x="857" y="376" width="1" height="14"/><rect x="855" y="386" width="5" height="1"/><rect x="865" y="383" width="1" height="18"/><rect x="863" y="385" width="5" height="6"/><rect x="873" y="383" width="1" height="16"/><rect x="871" y="387" width="5" height="4"/><rect x="872" y="388" width="3" height="2" fill="#fff"/><rect x="881" y="382" width="1" height="4"/><rect x="879" y="384" width="5" height="1"/><rect x="889" y="370" width="1" height="21"/><rect x="887" y="382" width="5" height="3"/><rect x="888" y="383" width="3" height="1" fill="#fff"/><rect x="897" y="375" width="1" height="14"/><rect x="895" y="380" width="5" height="4"/><rect x="896" y="381" width="3" height="2" fill="#fff"/><rect x="905" y="374" width="1" height="16"/><rect x="903" y="380" width="5" height="7"/><rect x="913" y="381" width="1" height="15"/><rect x="911" y="385" width="5" height="1"/><rect x="921" y="381" width="1" height="12"/><rect x="919" y="384" width="5" height="1"/><rect x="929" y="386" width="1" height="3"/><rect x="927" y="387" width="5" height="1"/><rect x="937" y="383" width="1" height="19"/><rect x="935" y="387" width="5" height="12"/><rect x="945" y="386" width="1" height="25"/><rect x="943" y="399" width="5" height="1"/><rect x="953" y="393" width="1" height="31"/><rect x="951" y="399" width="5" height="19"/><rect x="961" y="397" width="1" height="21"/><rect x="959" y="407" width="5" height="11"/><rect x="960" y="408" width="3" height="9" fill="#fff"/><rect x="969" y="404" width="1" height="37"/><rect x="967" y="405" width="5" height="11"/><rect x="977" y="416" width="1" height="11"/><rect x="975" y="417" width="5" height="5"/><rect x="985" y="388" width="1" height="34"/><rect x="983" y="390" width="5" height="32"/><rect x="984" y="391" width="3" height="30" fill="#fff"/><rect x="993" y="355" width="1" height="37"/><rect x="991" y="366" width="5" height="26"/><rect x="992" y="367" width="3" height="24" fill="#fff"/><rect x="1001" y="342" width="1" height="48"/><rect x="999" y="356" width="5" height="11"/><rect x="1000" y="357" width="3" height="9" fill="#fff"/><rect x="1009" y="317" width="1" height="44"/><rect x="1007" y="335" width="5" height="24"/><rect x="1008" y="336" width="3" height="22" fill="#fff"/><rect x="1017" y="310" width="1" height="32"/><rect x="1015" y="316" width="5" height="22"/><rect x="1016" y="317" width="3" height="20" fill="#fff"/><rect x="1025" y="298" width="1" height="17"/><rect x="1023" y="301" width="5" height="14"/><rect x="1024" y="302" width="3" height="12" fill="#fff"/><rect x="1033" y="195" width="1" height="110"/><rect x="1031" y="246" width="5" height="57"/><rect x="1032" y="247" width="3" height="55" fill="#fff"/><rect x="1041" y="230" width="1" height="52"/><rect x="1039" y="250" width="5" height="1"/><rect x="1049" y="210" width="1" height="46"/><rect x="1047" y="230" width="5" height="21"/><rect x="1048" y="231" width="3" height="19" fill="#fff"/><rect x="1057" y="219" width="1" height="32"/><rect x="1055" y="231" width="5" height="4"/><rect x="1065" y="217" width="1" height="35"/><rect x="1063" y="217" width="5" height="19"/><rect x="1064" y="218" width="3" height="17" fill="#fff"/><rect x="1073" y="205" width="1" height="8"/><rect x="1071" y="208" width="5" height="4"/><rect x="1072" y="209" width="3" height="2" fill="#fff"/><rect x="1081" y="169" width="1" height="46"/><rect x="1079" y="177" width="5" height="34"/><rect x="1080" y="178" width="3" height="32" fill="#fff"/><rect x="1089" y="179" width="1" height="21"/><rect x="1087" y="179" width="5" height="18"/><rect x="1097" y="192" width="1" height="26"/><rect x="1095" y="196" width="5" height="22"/><rect x="1105" y="214" width="1" height="22"/><rect x="1103" y="217" width="5" height="14"/><rect x="1113" y="205" width="1" height="30"/><rect x="1111" y="209" width="5" height="22"/><rect x="1112" y="210" width="3" height="20" fill="#fff"/><rect x="1121" y="208" width="1" height="8"/><rect x="1119" y="210" width="5" height="3"/><rect x="1120" y="211" width="3" height="1" fill="#fff"/><rect x="1129" y="181" width="1" height="31"/><rect x="1127" y="189" width="5" height="22"/><rect x="1128" y="190" width="3" height="20" fill="#fff"/><rect x="1137" y="141" width="1" height="51"/><rect x="1135" y="143" width="5" height="48"/><rect x="1136" y="144" width="3" height="46" fill="#fff"/><rect x="1145" y="129" width="1" height="44"/><rect x="1143" y="144" width="5" height="23"/><rect x="1153" y="138" width="1" height="30"/><rect x="1151" y="147" width="5" height="20"/><rect x="1152" y="148" width="3" height="18" fill="#fff"/><rect x="1161" y="121" width="1" height="34"/><rect x="1159" y="122" width="5" height="25"/><rect x="1160" y="123" width="3" height="23" fill="#fff"/><rect x="1169" y="111" width="1" height="10"/><rect x="1167" y="117" width="5" height="3"/><rect x="1177" y="116" width="1" height="43"/><rect x="1175" y="117" width="5" height="20"/><rect x="1185" y="108" width="1" height="29"/><rect x="1183" y="115" width="5" height="22"/><rect x="1184" y="116" width="3" height="20" fill="#fff"/><rect x="1193" y="114" width="1" height="19"/><rect x="1191" y="116" width="5" height="10"/><rect x="1201" y="112" width="1" height="20"/><rect x="1199" y="125" width="5" height="6"/><rect x="1209" y="116" width="1" height="20"/><rect x="1207" y="120" width="5" height="11"/><rect x="1208" y="121" width="3" height="9" fill="#fff"/><rect x="1217" y="109" width="1" height="10"/><rect x="1215" y="113" width="5" height="4"/><rect x="1225" y="115" width="1" height="47"/><rect x="1223" y="115" width="5" height="41"/><rect x="1233" y="143" width="1" height="21"/><rect x="1231" y="147" width="5" height="9"/><rect x="1232" y="148" width="3" height="7" fill="#fff"/><rect x="1241" y="118" width="1" height="34"/><rect x="1239" y="137" width="5" height="12"/><rect x="1240" y="138" width="3" height="10" fill="#fff"/><rect x="1249" y="123" width="1" height="27"/><rect x="1247" y="130" width="5" height="7"/><rect x="1248" y="131" width="3" height="5" fill="#fff"/><rect x="1257" y="125" width="1" height="33"/><rect x="1255" y="131" width="5" height="15"/><rect x="1265" y="133" width="1" height="11"/><rect x="1263" y="134" width="5" height="4"/><rect x="1273" y="122" width="1" height="18"/><rect x="1271" y="135" width="5" height="5"/><rect x="1281" y="124" width="1" height="21"/><rect x="1279" y="125" width="5" height="14"/><rect x="1280" y="126" width="3" height="12" fill="#fff"/><rect x="1289" y="121" width="1" height="14"/><rect x="1287" y="125" width="5" height="5"/><rect x="1297" y="121" width="1" height="17"/><rect x="1295" y="129" width="5" height="1"/><rect x="1305" y="120" width="1" height="16"/><rect x="1303" y="129" width="5" height="6"/><rect x="1313" y="123" width="1" height="9"/><rect x="1311" y="124" width="5" height="3"/><rect x="1312" y="125" width="3" height="1" fill="#fff"/><rect x="1321" y="119" width="1" height="56"/><rect x="1319" y="123" width="5" height="24"/><rect x="1329" y="139" width="1" height="21"/><rect x="1327" y="144" width="5" height="3"/><rect x="1328" y="145" width="3" height="1" fill="#fff"/><rect x="1337" y="130" width="1" height="28"/><rect x="1335" y="137" width="5" height="8"/><rect x="1336" y="138" width="3" height="6" fill="#fff"/><rect x="1345" y="130" width="1" height="13"/><rect x="1343" y="137" width="5" height="1"/><rect x="1353" y="133" width="1" height="8"/><rect x="1351" y="135" width="5" height="2"/><rect x="1361" y="134" width="1" height="5"/><rect x="1359" y="134" width="5" height="3"/><rect x="1360" y="135" width="3" height="1" fill="#fff"/><rect x="1369" y="111" width="1" height="10"/><rect x="1367" y="113" width="5" height="8"/><rect x="1368" y="114" width="3" height="6" fill="#fff"/><rect x="1377" y="50" width="1" height="65"/><rect x="1375" y="58" width="5" height="57"/><rect x="1376" y="59" width="3" height="55" fill="#fff"/><rect x="1385" y="60" width="1" height="22"/><rect x="1383" y="62" width="5" height="4"/><rect x="1384" y="63" width="3" height="2" fill="#fff"/><rect x="1393" y="57" width="1" height="9"/><rect x="1391" y="59" width="5" height="7"/><rect x="1392" y="60" width="3" height="5" fill="#fff"/><rect x="1401" y="52" width="1" height="12"/><rect x="1399" y="57" width="5" height="7"/><rect x="1400" y="58" width="3" height="5" fill="#fff"/><rect x="1409" y="58" width="1" height="48"/><rect x="1407" y="60" width="5" height="39"/><rect x="1417" y="85" width="1" height="27"/><rect x="1415" y="98" width="5" height="6"/><rect x="1416" y="99" width="3" height="4" fill="#fff"/><rect x="1425" y="70" width="1" height="43"/><rect x="1423" y="76" width="5" height="25"/><rect x="1424" y="77" width="3" height="23" fill="#fff"/><rect x="1433" y="55" width="1" height="23"/><rect x="1431" y="55" width="5" height="23"/><rect x="1432" y="56" width="3" height="21" fill="#fff"/></g>
<rect x="1356" y="64" width="134" height="6" fill="#00ff00"/>
<g stroke="#ff0000" stroke-width="3.2" fill="none" stroke-linejoin="miter"><polyline points="1323.4,170.7 1389.7,56 1421.8,105 1484,37.5"/></g>
<path d="M1390.2,54.2 L1389.7,66.0 L1380.2,60.6z" fill="#ff0000"/>
<path d="M1422.3,107.5 L1412.1,101.5 L1421.4,95.7z" fill="#ff0000"/>
<path d="M1486.0,35.8 L1482.9,47.2 L1474.8,39.8z" fill="#ff0000"/>
</g>
<path d="M1442 24 h7 l-3.5 4z" fill="#a8a8a8"/>
<rect x="1266" y="67" width="8" height="1" fill="#ff0000"/><rect x="1273.5" y="65.5" width="3" height="3" fill="#fff" stroke="#ff0000"/>
<rect x="1276.5" y="55.5" width="73" height="24" fill="#fff" stroke="#ff0000" stroke-width="1"/>
<text x="1278" y="76" font-family='"Liberation Sans", sans-serif' font-size="23" fill="#ff0000" stroke="#ff0000" stroke-width="0.35" textLength="70" lengthAdjust="spacingAndGlyphs">27461.0</text>
<rect x="1514.5" y="68.5" width="110" height="24" fill="none" stroke="#404040" stroke-width="1"/><rect x="1567.5" y="65.5" width="3" height="2.5" fill="#fff" stroke="#32cd32" stroke-width="1"/>
<path transform="translate(1515.50,70.20) scale(1.0)" d="M6.9 0 L0.7 6.9 M4.9 2.4 H15.3 L2.8 12.5 M6.2 5.5 L10.4 7.6 M8.3 7.6 L1.4 13.9 M6.9 10.4 H17 L0.4 18.3 M7.6 13.9 L11 15.9" fill="none" stroke="#22ee22" stroke-width="1.000" stroke-linecap="square"/><path transform="translate(1537.35,70.20) scale(1.0)" d="M8.7 0 L9.7 2.4 M1 6.6 V3.5 H17.6 L16.9 6.6 M6.7 5.2 L2.4 9.4 M11.5 5.2 L17 9.4 M3.1 10.7 H14.9 M9.1 10.7 V17 M0 17 H18.4" fill="none" stroke="#22ee22" stroke-width="1.000" stroke-linecap="square"/><path transform="translate(1559.20,70.20) scale(1.0)" d="M0.4 2.8 H6.2 M3.8 0.4 L1 8.7 H6.9 M3.8 4.2 V18.4 M0 13.9 L7.3 12.5 M8.3 2.8 H17.3 M8.3 6.9 H18.4 M12.5 0 L11.1 9.7 M9.7 10.4 H15.9 L11.8 14.6 L15.6 18" fill="none" stroke="#22ee22" stroke-width="1.000" stroke-linecap="square"/><path transform="translate(1581.05,70.20) scale(1.0)" d="M0.7 4.9 H7.6 M4.5 0 V18.4 L3.1 17.7 M0.7 11.1 L7.6 8.7 M18 0.4 L9.7 2.8 V11.1 L5.5 18.4 M9.7 6.9 H19 M14.6 6.9 V18.4" fill="none" stroke="#22ee22" stroke-width="1.000" stroke-linecap="square"/><path transform="translate(1602.90,70.20) scale(1.0)" d="M8.3 0 V5.9 M8.3 2.8 H16.3 M3.1 5.9 H14.6 V12.5 H3.1 Z M1 17.7 L2 15.3 M5.9 15.3 L6.9 17.7 M10 15.3 L11.1 17.7 M14.6 14.6 L16.6 17.7" fill="none" stroke="#22ee22" stroke-width="1.000" stroke-linecap="square"/>
<path d="M0 30 l3 3 h-3z" fill="#000"/>
<text x="8" y="35" font-family='"Liberation Sans", sans-serif' font-size="10" fill="#000" textLength="207" lengthAdjust="spacingAndGlyphs" xml:space="preserve">JPN225-,Daily  27347.5 27612.5 27342.5 27610.0</text>
<rect x="0" y="43" width="216" height="64" fill="#fff"/>
<rect x="0" y="43" width="48" height="24" fill="url(#gred)"/>
<rect x="163" y="43" width="52" height="24" fill="url(#gred)"/>
<rect x="0" y="67" width="105" height="40" fill="url(#gred2)"/>
<rect x="107" y="67" width="108" height="40" fill="url(#gred2)"/>
<rect x="0" y="66" width="44" height="1" fill="#f09090"/><rect x="167" y="66" width="44" height="1" fill="#f09090"/>
<rect x="48" y="43" width="115" height="24" fill="#ffffff"/>
<rect x="50.5" y="43.5" width="110" height="21" fill="#fff" stroke="#b4b4b4"/>
<rect x="51" y="44" width="20" height="20" fill="url(#gbtn)" stroke="#c8c8c8"/><rect x="139" y="44" width="21" height="20" fill="url(#gbtn)" stroke="#c8c8c8"/>
<path d="M58 52 h6 l-3 3z" fill="#4a5ac0"/><path d="M146 55 h6 l-3 -3z" fill="#4a5ac0"/>
<text x="136" y="58" font-family='"Liberation Sans", sans-serif' font-size="12" fill="#000" text-anchor="end">1.00</text>
<text x="8" y="59" font-family='"Liberation Sans", sans-serif' font-size="12" fill="#fff" textLength="25.5" lengthAdjust="spacingAndGlyphs">SELL</text>
<text x="176" y="59" font-family='"Liberation Sans", sans-serif' font-size="12" fill="#fff" textLength="23.5" lengthAdjust="spacingAndGlyphs">BUY</text>
<text x="12" y="98" font-family='"Liberation Sans", sans-serif' font-size="12" font-weight="bold" fill="#fff" textLength="35" lengthAdjust="spacingAndGlyphs">27608</text>
<rect x="51" y="93" width="4" height="4" fill="#fff"/>
<text transform="translate(58.5,98.5) scale(0.82,1)" font-family='"Liberation Sans", sans-serif' font-size="35" fill="#fff">5</text>
<text x="122" y="98" font-family='"Liberation Sans", sans-serif' font-size="12" font-weight="bold" fill="#fff" textLength="34" lengthAdjust="spacingAndGlyphs">27631</text>
<rect x="162" y="93" width="4" height="4" fill="#fff"/>
<text transform="translate(169.5,98.5) scale(0.82,1)" font-family='"Liberation Sans", sans-serif' font-size="35" fill="#fff">5</text>
<rect x="0" y="576" width="1684" height="1" fill="#000"/>
<rect x="0" y="578" width="1684" height="1" fill="#000"/>
<rect x="0" y="748" width="1684" height="1" fill="#000"/>
<rect x="0" y="750" width="1684" height="1" fill="#000"/>
<rect x="0" y="924" width="1684" height="1" fill="#000"/>
<rect x="1683" y="23" width="1" height="554"/>
<rect x="1683" y="578" width="1" height="171"/>
<rect x="1683" y="750" width="1" height="175"/>
<rect x="1684" y="45" width="3" height="1" fill="#000"/>
<text x="1689" y="49.0" font-family='"Liberation Sans", sans-serif' font-size="9.6" fill="#000" stroke="#000" stroke-width="0.12" textLength="32" lengthAdjust="spacingAndGlyphs">27739.0</text>
<rect x="1684" y="78" width="3" height="1" fill="#000"/>
<text x="1689" y="81.9" font-family='"Liberation Sans", sans-serif' font-size="9.6" fill="#000" stroke="#000" stroke-width="0.12" textLength="32" lengthAdjust="spacingAndGlyphs">27331.0</text>
<rect x="1684" y="111" width="3" height="1" fill="#000"/>
<text x="1689" y="114.8" font-family='"Liberation Sans", sans-serif' font-size="9.6" fill="#000" stroke="#000" stroke-width="0.12" textLength="32" lengthAdjust="spacingAndGlyphs">26923.0</text>
<rect x="1684" y="144" width="3" height="1" fill="#000"/>
<text x="1689" y="147.7" font-family='"Liberation Sans", sans-serif' font-size="9.6" fill="#000" stroke="#000" stroke-width="0.12" textLength="32" lengthAdjust="spacingAndGlyphs">26515.0</text>
<rect x="1684" y="177" width="3" height="1" fill="#000"/>
<text x="1689" y="180.7" font-family='"Liberation Sans", sans-serif' font-size="9.6" fill="#000" stroke="#000" stroke-width="0.12" textLength="32" lengthAdjust="spacingAndGlyphs">26107.0</text>
<rect x="1684" y="210" width="3" height="1" fill="#000"/>
<text x="1689" y="213.6" font-family='"Liberation Sans", sans-serif' font-size="9.6" fill="#000" stroke="#000" stroke-width="0.12" textLength="32" lengthAdjust="spacingAndGlyphs">25699.0</text>
<rect x="1684" y="244" width="3" height="1" fill="#000"/>
<text x="1689" y="247.5" font-family='"Liberation Sans", sans-serif' font-size="9.6" fill="#000" stroke="#000" stroke-width="0.12" textLength="32" lengthAdjust="spacingAndGlyphs">25279.0</text>
<rect x="1684" y="277" width="3" height="1" fill="#000"/>
<text x="1689" y="280.4" font-family='"Liberation Sans", sans-serif' font-size="9.6" fill="#000" stroke="#000" stroke-width="0.12" textLength="32" lengthAdjust="spacingAndGlyphs">24871.0</text>
<rect x="1684" y="309" width="3" height="1" fill="#000"/>
<text x="1689" y="313.4" font-family='"Liberation Sans", sans-serif' font-size="9.6" fill="#000" stroke="#000" stroke-width="0.12" textLength="32" lengthAdjust="spacingAndGlyphs">24463.0</text>
<rect x="1684" y="342" width="3" height="1" fill="#000"/>
<text x="1689" y="346.3" font-family='"Liberation Sans", sans-serif' font-size="9.6" fill="#000" stroke="#000" stroke-width="0.12" textLength="32" lengthAdjust="spacingAndGlyphs">24055.0</text>
<rect x="1684" y="375" width="3" height="1" fill="#000"/>
<text x="1689" y="379.2" font-family='"Liberation Sans", sans-serif' font-size="9.6" fill="#000" stroke="#000" stroke-width="0.12" textLength="32" lengthAdjust="spacingAndGlyphs">23647.0</text>
<rect x="1684" y="408" width="3" height="1" fill="#000"/>
<text x="1689" y="412.2" font-family='"Liberation Sans", sans-serif' font-size="9.6" fill="#000" stroke="#000" stroke-width="0.12" textLength="32" lengthAdjust="spacingAndGlyphs">23239.0</text>
<rect x="1684" y="441" width="3" height="1" fill="#000"/>
<text x="1689" y="445.1" font-family='"Liberation Sans", sans-serif' font-size="9.6" fill="#000" stroke="#000" stroke-width="0.12" textLength="32" lengthAdjust="spacingAndGlyphs">22831.0</text>
<rect x="1684" y="474" width="3" height="1" fill="#000"/>
<text x="1689" y="478.0" font-family='"Liberation Sans", sans-serif' font-size="9.6" fill="#000" stroke="#000" stroke-width="0.12" textLength="32" lengthAdjust="spacingAndGlyphs">22423.0</text>
<rect x="1684" y="507" width="3" height="1" fill="#000"/>
<text x="1689" y="510.9" font-family='"Liberation Sans", sans-serif' font-size="9.6" fill="#000" stroke="#000" stroke-width="0.12" textLength="32" lengthAdjust="spacingAndGlyphs">22015.0</text>
<rect x="1684" y="540" width="3" height="1" fill="#000"/>
<text x="1689" y="543.9" font-family='"Liberation Sans", sans-serif' font-size="9.6" fill="#000" stroke="#000" stroke-width="0.12" textLength="32" lengthAdjust="spacingAndGlyphs">21607.0</text>
<rect x="1684" y="573" width="3" height="1" fill="#000"/>
<text x="1689" y="576.8" font-family='"Liberation Sans", sans-serif' font-size="9.6" fill="#000" stroke="#000" stroke-width="0.12" textLength="32" lengthAdjust="spacingAndGlyphs">21199.0</text>
<rect x="1685" y="20.7" width="41" height="10.7" fill="#ff0000"/>
<text x="1689" y="29.7" font-family='"Liberation Sans", sans-serif' font-size="10" fill="#fff" textLength="32" lengthAdjust="spacingAndGlyphs">27968.3</text>
<rect x="1685" y="33.1" width="41" height="10.7" fill="#ff0000"/>
<text x="1689" y="42.1" font-family='"Liberation Sans", sans-serif' font-size="10" fill="#fff" textLength="32" lengthAdjust="spacingAndGlyphs">27807.4</text>
<rect x="1685" y="50.2" width="41" height="10.7" fill="#000000"/>
<text x="1689" y="59.2" font-family='"Liberation Sans", sans-serif' font-size="10" fill="#fff" textLength="32" lengthAdjust="spacingAndGlyphs">27610.0</text>
<rect x="1685" y="61.2" width="41" height="10.7" fill="#32cd32"/>
<text x="1689" y="70.2" font-family='"Liberation Sans", sans-serif' font-size="10" fill="#fff" textLength="32" lengthAdjust="spacingAndGlyphs">27461.0</text>
<rect x="1685" y="78.2" width="41" height="10.7" fill="#0000ff"/>
<text x="1689" y="87.2" font-family='"Liberation Sans", sans-serif' font-size="10" fill="#fff" textLength="32" lengthAdjust="spacingAndGlyphs">27250.6</text>
<rect x="1685" y="92.2" width="41" height="10.7" fill="#0000ff"/>
<text x="1689" y="101.2" font-family='"Liberation Sans", sans-serif' font-size="10" fill="#fff" textLength="32" lengthAdjust="spacingAndGlyphs">27077.4</text>
<g clip-path="url(#cmacd)">
<g fill="#c0c0c0" shape-rendering="crispEdges"><rect x="1" y="608" width="1" height="121"/><rect x="9" y="621" width="1" height="108"/><rect x="17" y="634" width="1" height="95"/><rect x="25" y="644" width="1" height="85"/><rect x="33" y="648" width="1" height="81"/><rect x="41" y="654" width="1" height="75"/><rect x="49" y="657" width="1" height="72"/><rect x="57" y="663" width="1" height="66"/><rect x="65" y="669" width="1" height="60"/><rect x="73" y="669" width="1" height="60"/><rect x="81" y="672" width="1" height="57"/><rect x="89" y="679" width="1" height="50"/><rect x="97" y="681" width="1" height="48"/><rect x="105" y="687" width="1" height="42"/><rect x="113" y="692" width="1" height="37"/><rect x="121" y="694" width="1" height="35"/><rect x="129" y="697" width="1" height="32"/><rect x="137" y="702" width="1" height="27"/><rect x="145" y="705" width="1" height="24"/><rect x="153" y="708" width="1" height="21"/><rect x="161" y="710" width="1" height="19"/><rect x="169" y="706" width="1" height="23"/><rect x="177" y="706" width="1" height="23"/><rect x="185" y="705" width="1" height="24"/><rect x="193" y="704" width="1" height="25"/><rect x="201" y="704" width="1" height="25"/><rect x="209" y="703" width="1" height="26"/><rect x="217" y="703" width="1" height="26"/><rect x="225" y="700" width="1" height="29"/><rect x="233" y="696" width="1" height="33"/><rect x="241" y="696" width="1" height="33"/><rect x="249" y="697" width="1" height="32"/><rect x="257" y="698" width="1" height="31"/><rect x="265" y="698" width="1" height="31"/><rect x="273" y="698" width="1" height="31"/><rect x="281" y="701" width="1" height="28"/><rect x="289" y="703" width="1" height="26"/><rect x="297" y="710" width="1" height="19"/><rect x="305" y="715" width="1" height="14"/><rect x="313" y="715" width="1" height="14"/><rect x="321" y="717" width="1" height="12"/><rect x="329" y="719" width="1" height="10"/><rect x="337" y="724" width="1" height="5"/><rect x="345" y="728" width="1" height="5"/><rect x="353" y="728" width="1" height="11"/><rect x="361" y="728" width="1" height="11"/><rect x="369" y="728" width="1" height="9"/><rect x="377" y="728" width="1" height="6"/><rect x="385" y="728" width="1" height="6"/><rect x="393" y="728" width="1" height="4"/><rect x="401" y="728" width="1" height="4"/><rect x="409" y="728" width="1" height="2"/><rect x="417" y="726" width="1" height="3"/><rect x="425" y="715" width="1" height="14"/><rect x="433" y="706" width="1" height="23"/><rect x="441" y="701" width="1" height="28"/><rect x="449" y="697" width="1" height="32"/><rect x="457" y="695" width="1" height="34"/><rect x="465" y="696" width="1" height="33"/><rect x="473" y="697" width="1" height="32"/><rect x="481" y="697" width="1" height="32"/><rect x="489" y="701" width="1" height="28"/><rect x="497" y="702" width="1" height="27"/><rect x="505" y="699" width="1" height="30"/><rect x="513" y="698" width="1" height="31"/><rect x="521" y="695" width="1" height="34"/><rect x="529" y="694" width="1" height="35"/><rect x="537" y="699" width="1" height="30"/><rect x="545" y="700" width="1" height="29"/><rect x="553" y="702" width="1" height="27"/><rect x="561" y="701" width="1" height="28"/><rect x="569" y="696" width="1" height="33"/><rect x="577" y="700" width="1" height="29"/><rect x="585" y="702" width="1" height="27"/><rect x="593" y="705" width="1" height="24"/><rect x="601" y="706" width="1" height="23"/><rect x="609" y="714" width="1" height="15"/><rect x="617" y="716" width="1" height="13"/><rect x="625" y="718" width="1" height="11"/><rect x="633" y="717" width="1" height="12"/><rect x="641" y="714" width="1" height="15"/><rect x="649" y="712" width="1" height="17"/><rect x="657" y="712" width="1" height="17"/><rect x="665" y="713" width="1" height="16"/><rect x="673" y="714" width="1" height="15"/><rect x="681" y="717" width="1" height="12"/><rect x="689" y="719" width="1" height="10"/><rect x="697" y="725" width="1" height="4"/><rect x="705" y="726" width="1" height="3"/><rect x="713" y="727" width="1" height="2"/><rect x="721" y="728" width="1" height="1"/><rect x="729" y="727" width="1" height="2"/><rect x="737" y="725" width="1" height="4"/><rect x="745" y="721" width="1" height="8"/><rect x="753" y="717" width="1" height="12"/><rect x="761" y="716" width="1" height="13"/><rect x="769" y="716" width="1" height="13"/><rect x="777" y="718" width="1" height="11"/><rect x="785" y="718" width="1" height="11"/><rect x="793" y="717" width="1" height="12"/><rect x="801" y="719" width="1" height="10"/><rect x="809" y="715" width="1" height="14"/><rect x="817" y="710" width="1" height="19"/><rect x="825" y="708" width="1" height="21"/><rect x="833" y="707" width="1" height="22"/><rect x="841" y="706" width="1" height="23"/><rect x="849" y="706" width="1" height="23"/><rect x="857" y="707" width="1" height="22"/><rect x="865" y="708" width="1" height="21"/><rect x="873" y="708" width="1" height="21"/><rect x="881" y="710" width="1" height="19"/><rect x="889" y="710" width="1" height="19"/><rect x="897" y="710" width="1" height="19"/><rect x="905" y="711" width="1" height="18"/><rect x="913" y="712" width="1" height="17"/><rect x="921" y="713" width="1" height="16"/><rect x="929" y="714" width="1" height="15"/><rect x="937" y="717" width="1" height="12"/><rect x="945" y="720" width="1" height="9"/><rect x="953" y="726" width="1" height="3"/><rect x="961" y="728" width="1" height="1"/><rect x="969" y="728" width="1" height="3"/><rect x="977" y="728" width="1" height="6"/><rect x="985" y="728" width="1" height="3"/><rect x="993" y="727" width="1" height="2"/><rect x="1001" y="719" width="1" height="10"/><rect x="1009" y="710" width="1" height="19"/><rect x="1017" y="700" width="1" height="29"/><rect x="1025" y="689" width="1" height="40"/><rect x="1033" y="671" width="1" height="58"/><rect x="1041" y="658" width="1" height="71"/><rect x="1049" y="645" width="1" height="84"/><rect x="1057" y="637" width="1" height="92"/><rect x="1065" y="628" width="1" height="101"/><rect x="1073" y="620" width="1" height="109"/><rect x="1081" y="610" width="1" height="119"/><rect x="1089" y="607" width="1" height="122"/><rect x="1097" y="609" width="1" height="120"/><rect x="1105" y="615" width="1" height="114"/><rect x="1113" y="618" width="1" height="111"/><rect x="1121" y="621" width="1" height="108"/><rect x="1129" y="620" width="1" height="109"/><rect x="1137" y="614" width="1" height="115"/><rect x="1145" y="612" width="1" height="117"/><rect x="1153" y="610" width="1" height="119"/><rect x="1161" y="605" width="1" height="124"/><rect x="1169" y="601" width="1" height="128"/><rect x="1177" y="604" width="1" height="125"/><rect x="1185" y="603" width="1" height="126"/><rect x="1193" y="605" width="1" height="124"/><rect x="1201" y="610" width="1" height="119"/><rect x="1209" y="613" width="1" height="116"/><rect x="1217" y="616" width="1" height="113"/><rect x="1225" y="626" width="1" height="103"/><rect x="1233" y="635" width="1" height="94"/><rect x="1241" y="640" width="1" height="89"/><rect x="1249" y="645" width="1" height="84"/><rect x="1257" y="651" width="1" height="78"/><rect x="1265" y="656" width="1" height="73"/><rect x="1273" y="661" width="1" height="68"/><rect x="1281" y="663" width="1" height="66"/><rect x="1289" y="666" width="1" height="63"/><rect x="1297" y="670" width="1" height="59"/><rect x="1305" y="674" width="1" height="55"/><rect x="1313" y="676" width="1" height="53"/><rect x="1321" y="682" width="1" height="47"/><rect x="1329" y="687" width="1" height="42"/><rect x="1337" y="690" width="1" height="39"/><rect x="1345" y="693" width="1" height="36"/><rect x="1353" y="695" width="1" height="34"/><rect x="1361" y="698" width="1" height="31"/><rect x="1369" y="696" width="1" height="33"/><rect x="1377" y="684" width="1" height="45"/><rect x="1385" y="678" width="1" height="51"/><rect x="1393" y="673" width="1" height="56"/><rect x="1401" y="668" width="1" height="61"/><rect x="1409" y="672" width="1" height="57"/><rect x="1417" y="677" width="1" height="52"/><rect x="1425" y="677" width="1" height="52"/><rect x="1433" y="673" width="1" height="56"/></g>
<polyline points="10.2,589.4 25.4,599.6 40.7,616.1 56.0,635.2 71.2,649.2 86.5,659.4 106.8,670.8 127.2,681.0 147.5,689.9 167.9,698.8 178.0,701.9 203.5,704.4 216.2,703.9 241.6,701.3 262.0,698.3 295.0,698.3 305.2,701.3 320.4,705.2 335.7,710.2 351.0,716.6 363.7,725.0 381.5,729.3 396.7,731.9 409.5,735.2 419.6,733.9 429.8,729.3 440.0,724.2 446.2,720.4 458.9,714.1 471.6,706.4 484.3,700.8 502.1,697.0 542.8,697.0 555.5,698.3 573.3,697.0 598.8,699.6 614.0,703.1 634.4,707.7 647.1,710.8 664.9,713.3 692.9,714.6 723.4,719.1 741.2,723.0 761.5,723.5 774.3,721.2 799.7,717.9 817.5,714.8 842.9,712.0 858.2,709.0 876.0,707.7 907.6,707.2 935.6,710.8 948.3,712.3 968.6,717.9 983.9,724.2 1001.7,726.0 1019.5,722.5 1029.7,716.6 1044.9,700.1 1060.2,678.5 1075.5,659.4 1095.8,632.7 1113.6,619.2 1126.3,616.1 1151.8,613.1 1177.2,611.1 1192.4,606.7 1223.0,606.7 1238.2,614.9 1253.5,623.8 1258.3,626.3 1268.7,635.2 1276.1,639.0 1284.0,645.4 1293.9,650.5 1299.3,654.3 1312.0,659.9 1314.2,661.9 1332.0,670.8 1349.8,678.5 1367.6,686.9 1385.4,688.1 1400.7,685.3 1415.9,681.0 1433.7,674.6" fill="none" stroke="#ff0000" stroke-width="1" stroke-dasharray="3,3" shape-rendering="crispEdges"/>
</g>
<text x="-4" y="590.7" font-family='"Liberation Sans", sans-serif' font-size="10" fill="#000" textLength="129" lengthAdjust="spacingAndGlyphs">MACD(12,26,9) 297.19 274.33</text>
<rect x="1684" y="580" width="3" height="1" fill="#000"/>
<rect x="1684" y="728" width="3" height="1" fill="#000"/>
<rect x="1684" y="747" width="3" height="1" fill="#000"/>
<text x="1688" y="589.5" font-family='"Liberation Sans", sans-serif' font-size="10" fill="#000" textLength="27" lengthAdjust="spacingAndGlyphs">790.31</text>
<text x="1689" y="732" font-family='"Liberation Sans", sans-serif' font-size="10" fill="#000" textLength="17" lengthAdjust="spacingAndGlyphs">0.00</text>
<text x="1687" y="745" font-family='"Liberation Sans", sans-serif' font-size="10" fill="#000" textLength="26" lengthAdjust="spacingAndGlyphs">-103.6</text>
<g clip-path="url(#crsi)">
<line x1="0" y1="786.5" x2="1683" y2="786.5" stroke="#c0c0c0" stroke-width="1" stroke-dasharray="3,3"/>
<line x1="0" y1="837.5" x2="1683" y2="837.5" stroke="#c0c0c0" stroke-width="1" stroke-dasharray="3,3"/>
<line x1="0" y1="898.5" x2="1683" y2="898.5" stroke="#c0c0c0" stroke-width="1" stroke-dasharray="3,3"/>
<polyline points="1.5,832.7 9.5,828.3 17.5,831.4 25.5,830.1 33.5,821.7 41.5,825.5 49.5,822.5 57.5,828.1 65.5,828.3 73.5,819.9 81.5,823.8 89.5,833.2 97.5,828.3 105.5,833.2 113.5,834.4 121.5,829.6 129.5,831.4 137.5,837.2 145.5,833.9 153.5,836.5 161.5,833.2 169.5,822.5 177.5,829.3 185.5,827.1 193.5,827.1 201.5,824.5 209.5,823.2 217.5,825.5 225.5,817.4 233.5,814.1 241.5,819.9 249.5,826.3 257.5,823.8 265.5,822.5 273.5,823.2 281.5,827.1 289.5,834.7 297.5,847.2 305.5,841.0 313.5,829.6 321.5,837.0 329.5,838.5 337.5,849.2 345.5,861.9 353.5,860.6 361.5,839.5 369.5,836.5 377.5,836.5 385.5,839.0 393.5,837.2 401.5,837.0 409.5,832.7 417.5,822.5 425.5,808.0 433.5,804.2 441.5,813.6 449.5,812.3 457.5,817.4 465.5,823.2 473.5,823.2 481.5,822.5 489.5,830.1 497.5,828.3 505.5,814.3 513.5,814.3 521.5,812.3 529.5,816.1 537.5,836.5 545.5,824.5 553.5,830.1 561.5,822.5 569.5,812.3 577.5,834.7 585.5,831.4 593.5,833.2 601.5,830.6 609.5,847.2 617.5,836.5 625.5,837.2 633.5,833.2 641.5,826.3 649.5,829.3 657.5,829.3 665.5,830.6 673.5,834.7 681.5,838.3 689.5,838.3 697.5,851.0 705.5,838.3 713.5,840.3 721.5,837.7 729.5,833.4 737.5,830.9 745.5,823.8 753.5,820.4 761.5,828.1 769.5,829.3 777.5,837.0 785.5,833.2 793.5,826.3 801.5,833.9 809.5,823.8 817.5,814.3 825.5,823.2 833.5,823.2 841.5,820.4 849.5,827.1 857.5,826.3 865.5,830.1 873.5,828.1 881.5,826.3 889.5,824.5 897.5,823.8 905.5,829.3 913.5,828.3 921.5,828.3 929.5,831.4 937.5,842.1 945.5,844.6 953.5,858.9 961.5,847.4 969.5,853.8 977.5,857.6 985.5,831.4 993.5,817.4 1001.5,812.3 1009.5,804.2 1017.5,797.8 1025.5,794.0 1033.5,782.3 1041.5,785.6 1049.5,782.3 1057.5,785.6 1065.5,782.3 1073.5,781.0 1081.5,776.2 1089.5,786.4 1097.5,801.6 1105.5,809.0 1113.5,804.2 1121.5,804.2 1129.5,800.1 1137.5,790.2 1145.5,802.1 1153.5,797.8 1161.5,793.7 1169.5,793.7 1177.5,802.1 1185.5,798.3 1193.5,802.6 1201.5,806.0 1209.5,804.2 1217.5,802.6 1225.5,823.2 1233.5,821.7 1241.5,817.4 1249.5,815.6 1257.5,822.5 1265.5,820.4 1273.5,821.2 1281.5,816.6 1289.5,818.2 1297.5,819.2 1305.5,821.2 1313.5,817.4 1321.5,831.4 1329.5,830.1 1337.5,826.3 1345.5,826.3 1353.5,825.5 1361.5,825.5 1369.5,816.1 1377.5,795.8 1385.5,801.4 1393.5,800.4 1401.5,798.3 1409.5,825.0 1417.5,826.3 1425.5,816.6 1433.5,811.0" fill="none" stroke="#1e90ff" stroke-width="1" shape-rendering="crispEdges"/>
</g>
<text x="-2" y="762.7" font-family='"Liberation Sans", sans-serif' font-size="10" fill="#000" textLength="67" lengthAdjust="spacingAndGlyphs">RSI(14) 66.0624</text>
<rect x="1684" y="752" width="3" height="1" fill="#000"/>
<text x="1688" y="761" font-family='"Liberation Sans", sans-serif' font-size="10" fill="#000" textLength="14" lengthAdjust="spacingAndGlyphs">100</text>
<rect x="1684" y="786" width="3" height="1" fill="#000"/>
<text x="1688" y="790.5" font-family='"Liberation Sans", sans-serif' font-size="10" fill="#000" textLength="9" lengthAdjust="spacingAndGlyphs">80</text>
<rect x="1684" y="838" width="3" height="1" fill="#000"/>
<text x="1688" y="841.5" font-family='"Liberation Sans", sans-serif' font-size="10" fill="#000" textLength="9" lengthAdjust="spacingAndGlyphs">50</text>
<rect x="1684" y="898" width="3" height="1" fill="#000"/>
<text x="1688" y="902.5" font-family='"Liberation Sans", sans-serif' font-size="10" fill="#000" textLength="9" lengthAdjust="spacingAndGlyphs">15</text>
<rect x="1684" y="924" width="3" height="1" fill="#000"/>
<text x="1688" y="920.5" font-family='"Liberation Sans", sans-serif' font-size="10" fill="#000" textLength="5" lengthAdjust="spacingAndGlyphs">0</text>
<rect x="-7" y="925" width="1" height="3" fill="#000"/>
<text transform="translate(-7,937) scale(0.9,1)" x="0" y="0" font-family='"Liberation Sans", sans-serif' font-size="9.8" fill="#000" stroke="#000" stroke-width="0.12">10 Jun 2020</text>
<rect x="57" y="925" width="1" height="3" fill="#000"/>
<text transform="translate(57,937) scale(0.9,1)" x="0" y="0" font-family='"Liberation Sans", sans-serif' font-size="9.8" fill="#000" stroke="#000" stroke-width="0.12">19 Jun 2020</text>
<rect x="121" y="925" width="1" height="3" fill="#000"/>
<text transform="translate(121,937) scale(0.9,1)" x="0" y="0" font-family='"Liberation Sans", sans-serif' font-size="9.8" fill="#000" stroke="#000" stroke-width="0.12">29 Jun 2020</text>
<rect x="185" y="925" width="1" height="3" fill="#000"/>
<text transform="translate(185,937) scale(0.9,1)" x="0" y="0" font-family='"Liberation Sans", sans-serif' font-size="9.8" fill="#000" stroke="#000" stroke-width="0.12">8 Jul 2020</text>
<rect x="249" y="925" width="1" height="3" fill="#000"/>
<text transform="translate(249,937) scale(0.9,1)" x="0" y="0" font-family='"Liberation Sans", sans-serif' font-size="9.8" fill="#000" stroke="#000" stroke-width="0.12">17 Jul 2020</text>
<rect x="313" y="925" width="1" height="3" fill="#000"/>
<text transform="translate(313,937) scale(0.9,1)" x="0" y="0" font-family='"Liberation Sans", sans-serif' font-size="9.8" fill="#000" stroke="#000" stroke-width="0.12">27 Jul 2020</text>
<rect x="377" y="925" width="1" height="3" fill="#000"/>
<text transform="translate(377,937) scale(0.9,1)" x="0" y="0" font-family='"Liberation Sans", sans-serif' font-size="9.8" fill="#000" stroke="#000" stroke-width="0.12">5 Aug 2020</text>
<rect x="441" y="925" width="1" height="3" fill="#000"/>
<text transform="translate(441,937) scale(0.9,1)" x="0" y="0" font-family='"Liberation Sans", sans-serif' font-size="9.8" fill="#000" stroke="#000" stroke-width="0.12">14 Aug 2020</text>
<rect x="505" y="925" width="1" height="3" fill="#000"/>
<text transform="translate(505,937) scale(0.9,1)" x="0" y="0" font-family='"Liberation Sans", sans-serif' font-size="9.8" fill="#000" stroke="#000" stroke-width="0.12">24 Aug 2020</text>
<rect x="569" y="925" width="1" height="3" fill="#000"/>
<text transform="translate(569,937) scale(0.9,1)" x="0" y="0" font-family='"Liberation Sans", sans-serif' font-size="9.8" fill="#000" stroke="#000" stroke-width="0.12">2 Sep 2020</text>
<rect x="633" y="925" width="1" height="3" fill="#000"/>
<text transform="translate(633,937) scale(0.9,1)" x="0" y="0" font-family='"Liberation Sans", sans-serif' font-size="9.8" fill="#000" stroke="#000" stroke-width="0.12">11 Sep 2020</text>
<rect x="697" y="925" width="1" height="3" fill="#000"/>
<text transform="translate(697,937) scale(0.9,1)" x="0" y="0" font-family='"Liberation Sans", sans-serif' font-size="9.8" fill="#000" stroke="#000" stroke-width="0.12">21 Sep 2020</text>
<rect x="761" y="925" width="1" height="3" fill="#000"/>
<text transform="translate(761,937) scale(0.9,1)" x="0" y="0" font-family='"Liberation Sans", sans-serif' font-size="9.8" fill="#000" stroke="#000" stroke-width="0.12">30 Sep 2020</text>
<rect x="825" y="925" width="1" height="3" fill="#000"/>
<text transform="translate(825,937) scale(0.9,1)" x="0" y="0" font-family='"Liberation Sans", sans-serif' font-size="9.8" fill="#000" stroke="#000" stroke-width="0.12">9 Oct 2020</text>
<rect x="889" y="925" width="1" height="3" fill="#000"/>
<text transform="translate(889,937) scale(0.9,1)" x="0" y="0" font-family='"Liberation Sans", sans-serif' font-size="9.8" fill="#000" stroke="#000" stroke-width="0.12">19 Oct 2020</text>
<rect x="953" y="925" width="1" height="3" fill="#000"/>
<text transform="translate(953,937) scale(0.9,1)" x="0" y="0" font-family='"Liberation Sans", sans-serif' font-size="9.8" fill="#000" stroke="#000" stroke-width="0.12">28 Oct 2020</text>
<rect x="1017" y="925" width="1" height="3" fill="#000"/>
<text transform="translate(1017,937) scale(0.9,1)" x="0" y="0" font-family='"Liberation Sans", sans-serif' font-size="9.8" fill="#000" stroke="#000" stroke-width="0.12">6 Nov 2020</text>
<rect x="1081" y="925" width="1" height="3" fill="#000"/>
<text transform="translate(1081,937) scale(0.9,1)" x="0" y="0" font-family='"Liberation Sans", sans-serif' font-size="9.8" fill="#000" stroke="#000" stroke-width="0.12">16 Nov 2020</text>
<rect x="1145" y="925" width="1" height="3" fill="#000"/>
<text transform="translate(1145,937) scale(0.9,1)" x="0" y="0" font-family='"Liberation Sans", sans-serif' font-size="9.8" fill="#000" stroke="#000" stroke-width="0.12">25 Nov 2020</text>
<rect x="1209" y="925" width="1" height="3" fill="#000"/>
<text transform="translate(1209,937) scale(0.9,1)" x="0" y="0" font-family='"Liberation Sans", sans-serif' font-size="9.8" fill="#000" stroke="#000" stroke-width="0.12">4 Dec 2020</text>
<rect x="1273" y="925" width="1" height="3" fill="#000"/>
<text transform="translate(1273,937) scale(0.9,1)" x="0" y="0" font-family='"Liberation Sans", sans-serif' font-size="9.8" fill="#000" stroke="#000" stroke-width="0.12">14 Dec 2020</text>
<rect x="1337" y="925" width="1" height="3" fill="#000"/>
<text transform="translate(1337,937) scale(0.9,1)" x="0" y="0" font-family='"Liberation Sans", sans-serif' font-size="9.8" fill="#000" stroke="#000" stroke-width="0.12">23 Dec 2020</text>
<rect x="1401" y="925" width="1" height="3" fill="#000"/>
<text transform="translate(1401,937) scale(0.9,1)" x="0" y="0" font-family='"Liberation Sans", sans-serif' font-size="9.8" fill="#000" stroke="#000" stroke-width="0.12">3 Jan 2021</text>
</svg></body></html>
